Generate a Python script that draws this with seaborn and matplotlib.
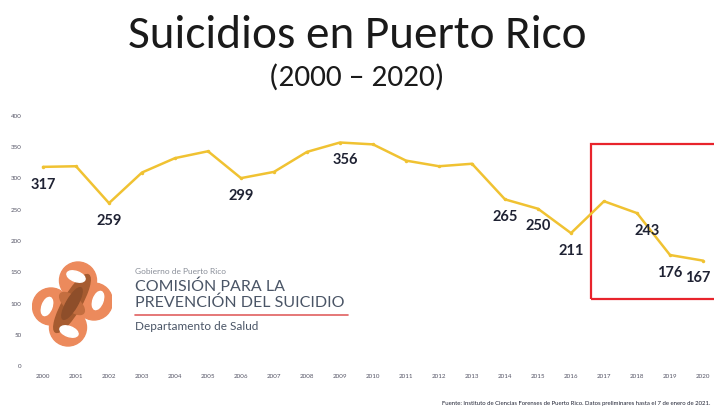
import numpy as np
import pandas as pd
import matplotlib
matplotlib.use('Agg')
import matplotlib.pyplot as plt
import seaborn as sns
from matplotlib.patches import Rectangle, Circle, Ellipse

years = list(range(2000, 2021))
suicides = [317, 318, 259, 308, 331, 342, 299, 309, 341, 356, 353,
            327, 318, 322, 265, 250, 211, 262, 243, 176, 167]
labeled_years = [2000, 2002, 2006, 2009, 2014, 2015, 2016, 2018, 2019, 2020]
yticks = [0, 50, 100, 150, 200, 250, 300, 350, 400]

df = pd.DataFrame({'year': years, 'suicides': suicides})

sns.set_style('white')
plt.rcParams['font.family'] = ['Lato', 'DejaVu Sans']

W, H = 714, 410
fig = plt.figure(figsize=(W / 100, H / 100), dpi=100)
fig.patch.set_facecolor('white')

# axes placed in pixel terms
ax = fig.add_axes([30 / W, 44 / H, 684 / W, 250 / H])
sns.lineplot(data=df, x='year', y='suicides', ax=ax, color='#F0C232',
             linewidth=1.8, marker='o', markersize=2.5, markeredgewidth=0)
ax.set_xlim(2000 - 13 / 33, 2020 + 11 / 33)
ax.set_ylim(0, 400)
ax.set_xticks(years)
ax.set_xticklabels([str(y) for y in years], fontsize=4.5, color='#555566')
ax.set_yticks(yticks)
ax.set_yticklabels([str(y) for y in yticks], fontsize=4.5, color='#555566')
ax.tick_params(length=0, pad=6)
ax.set_xlabel('')
ax.set_ylabel('')
for s in ax.spines.values():
    s.set_visible(False)
ax.patch.set_alpha(0)

for y, v in zip(years, suicides):
    if y in labeled_years:
        dx = 0
        if y == 2009:
            dx = 4
        if y == 2018:
            dx = 7
        if y == 2020:
            dx = -4
        ax.annotate(str(v), (y, v), xytext=(dx, -12), textcoords='offset points',
                    ha='center', va='center', fontsize=10.5, fontweight='bold',
                    color='#1f2233')

# red highlight box
ax.add_patch(Rectangle((2016.6, 105), 4.2, 249, fill=False, edgecolor='#E8242C',
                       linewidth=1.6, clip_on=False))

fig.text(0.5, 1 - 35 / H, 'Suicidios en Puerto Rico', ha='center', va='center',
         fontsize=34, color='#1a1a1a', family=['Carlito', 'Lato', 'DejaVu Sans'])
fig.text(0.5, 1 - 77 / H, '(2000 \u2013 2020)', ha='center', va='center',
         fontsize=22.5, color='#1a1a1a', family=['Carlito', 'Lato', 'DejaVu Sans'])

# logo
lax = fig.add_axes([32 / W, 58 / H, 80 / W, 95 / H])
lax.set_xlim(-40, 40)
lax.set_ylim(-47.5, 47.5)
lax.set_aspect('equal')
lax.axis('off')
for cx, cy in [(6, 23), (22, 2), (-4, -24), (-21, -3)]:
    lax.add_patch(Circle((cx, cy), 18.5, color='#EC8A5C', zorder=2))
lax.add_patch(Ellipse((0, 0), 66, 18, angle=60, color='#A65B30', zorder=3))
for cx, cy, ang in [(4, 27, 160), (26, 3, 70), (-3, -28, 160), (-25, -3, 70)]:
    lax.add_patch(Ellipse((cx, cy), 19, 10, angle=ang, color='white', zorder=4))
lax.add_patch(Ellipse((0, 0), 30, 14, angle=-40, color='#C46E40', zorder=5))
lax.add_patch(Ellipse((0, 0), 36, 11, angle=60, color='#8E4E2A', zorder=6))

fig.text(135 / W, 1 - 272 / H, 'Gobierno de Puerto Rico', fontsize=6,
         color='#8a8f99', va='center')
fig.text(135 / W, 1 - 287 / H, 'COMISIÓN PARA LA', fontsize=11.5,
         color='#4a5566', va='center')
fig.text(135 / W, 1 - 303 / H, 'PREVENCIÓN DEL SUICIDIO', fontsize=11.5,
         color='#4a5566', va='center')
fig.add_artist(plt.Line2D([135 / W, 348 / W], [1 - 316 / H, 1 - 316 / H],
                          color='#E06060', linewidth=1.2))
fig.text(135 / W, 1 - 327 / H, 'Departamento de Salud', fontsize=8.5,
         color='#4a5566', va='center')

fig.text(710 / W, 1 - 404 / H,
         'Fuente: Instituto de Ciencias Forenses de Puerto Rico. Datos preliminares hasta el 7 de enero de 2021.',
         ha='right', va='center', fontsize=4.3, color='#1f2233')

fig.savefig('out.png', dpi=100)
